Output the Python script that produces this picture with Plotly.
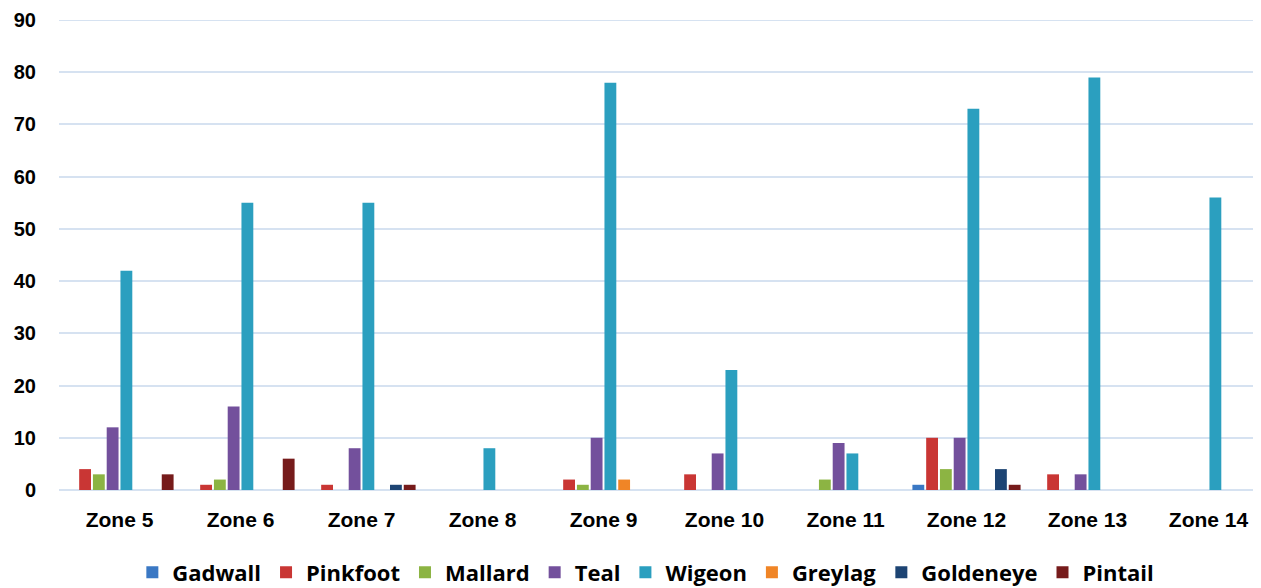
import plotly.graph_objects as go

zones = ["Zone 5", "Zone 6", "Zone 7", "Zone 8", "Zone 9", "Zone 10", "Zone 11", "Zone 12", "Zone 13", "Zone 14"]
gadwall   = [0, 0, 0, 0, 0, 0, 0, 1, 0, 0]
pinkfoot  = [4, 1, 1, 0, 2, 3, 0, 10, 3, 0]
mallard   = [3, 2, 0, 0, 1, 0, 2, 4, 0, 0]
teal      = [12, 16, 8, 0, 10, 7, 9, 10, 3, 0]
wigeon    = [42, 55, 55, 8, 78, 23, 7, 73, 79, 56]
greylag   = [0, 0, 0, 0, 2, 0, 0, 0, 0, 0]
goldeneye = [0, 0, 1, 0, 0, 0, 0, 4, 0, 0]
pintail   = [3, 6, 1, 0, 0, 0, 0, 1, 0, 0]
y_max = 90

series = [
    ("Gadwall", gadwall, "#3a78c4"),
    ("Pinkfoot", pinkfoot, "#c93634"),
    ("Mallard", mallard, "#8cb443"),
    ("Teal", teal, "#73509c"),
    ("Wigeon", wigeon, "#2b9fbf"),
    ("Greylag", greylag, "#f08526"),
    ("Goldeneye", goldeneye, "#1d4473"),
    ("Pintail", pintail, "#761b1b"),
]

fig = go.Figure()
for name, vals, col in series:
    fig.add_trace(go.Bar(name=name, x=zones, y=vals, marker=dict(color=col, line=dict(width=0))))

fig.add_shape(type="line", xref="paper", yref="y", x0=0, x1=1, y0=y_max, y1=y_max,
              line=dict(color="#d6e2f1", width=2), layer="below")

fig.update_layout(
    width=1261, height=588,
    paper_bgcolor="white", plot_bgcolor="white",
    barmode="group", bargap=0.09, bargroupgap=0.14,
    margin=dict(l=51, r=0, t=12, b=106, autoexpand=False),
    font=dict(family="Liberation Sans, sans-serif", color="black"),
    xaxis=dict(showgrid=False, showline=False, ticks="", automargin=False,
               tickfont=dict(size=21, family="Liberation Sans", weight="bold"), ticklabelstandoff=15),
    yaxis=dict(range=[0, y_max], dtick=10,
               showgrid=True, gridcolor="#d6e2f1", gridwidth=2,
               zeroline=True, zerolinecolor="#d6e2f1", zerolinewidth=2, automargin=False,
               tickfont=dict(size=20, family="Liberation Sans", weight="bold"), ticklabelstandoff=22),
    legend=dict(orientation="h", x=0.485, xanchor="center", y=-0.131, yanchor="top",
                font=dict(size=22, family="Open Sans", weight="bold"), itemwidth=30,
                traceorder="normal", tracegroupgap=0),
)
fig.write_html("out.html")
